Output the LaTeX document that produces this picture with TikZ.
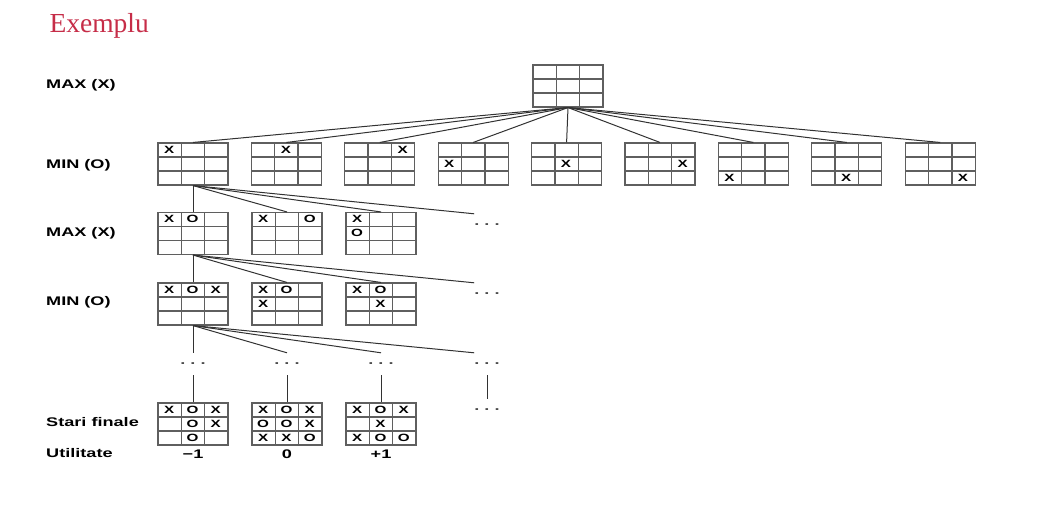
\documentclass[tikz,border=0pt]{standalone}
\usepackage{fontspec}
\setmainfont{Liberation Serif}
\newfontfamily\lblfont[FakeStretch=1.45]{Liberation Sans}
\usetikzlibrary{calc,positioning}
\definecolor{titlered}{RGB}{198,45,72}
\definecolor{gridgray}{RGB}{95,95,95}
\definecolor{edgegray}{RGB}{50,50,50}

% marks of one board: list of row/col/symbol
\newcommand{\xomarks}[2]{%
  \foreach \row/\col/\sym in {#2} {
    \node[xo] at ($(#1.north west)+(\col*23.333-11.667, \row*14-7)$) {\sym};
  }}

\begin{document}
\begin{tikzpicture}[x=1pt, y=-1pt]
    \useasboundingbox (0,0) rectangle (1052,508);
    \tikzset{board/.style={draw=gridgray, line width=1.1pt, minimum width=70pt, minimum height=42pt, inner sep=0pt, fill=white,
      path picture={
        \foreach \t in {1,2} {
          \draw[gridgray, line width=1.3pt]
            ($(path picture bounding box.north west)!\t/3!(path picture bounding box.north east)$) --
            ($(path picture bounding box.south west)!\t/3!(path picture bounding box.south east)$)
            ($(path picture bounding box.north west)!\t/3!(path picture bounding box.south west)$) --
            ($(path picture bounding box.north east)!\t/3!(path picture bounding box.south east)$);
        }}}}
    \tikzset{xo/.style={font=\lblfont\bfseries\fontsize{10.5}{11}\selectfont, inner sep=0pt, text=black}}
    \tikzset{lbl/.style={font=\lblfont\bfseries\fontsize{12.5}{13}\selectfont, inner sep=0pt, anchor=west, text=black}}
    \tikzset{dotsnode/.style={font=\lblfont\bfseries\fontsize{12.5}{13}\selectfont, inner sep=0pt, minimum height=22pt, text=black!70}}
    \tikzset{edge/.style={draw=edgegray, line width=1pt}}

    % TITLE
    \node[anchor=base west, text=titlered, font=\fontsize{27.5}{30}\selectfont] (title) at (46,33) {Exemplu};

    % LEVEL LABELS
    \node[lbl] (l0) at (46,85) {MAX (X)};
    \node[lbl] (l1) at (46,165) {MIN (O)};
    \node[lbl] (l2) at (46,233) {MAX (X)};
    \node[lbl] (l3) at (46,302) {MIN (O)};
    \node[lbl] (l4) at (46,422) {Stari finale};
    \node[lbl] (l5) at (46,453) {Utilitate};

    % ROOT BOARD
    \node[board] (root) at (568,86) {};

    % MIN (O): ONE X IN EACH CELL
    \foreach \k in {0,...,8} {
        \pgfmathsetmacro{\cx}{193+93.4*\k}
        \pgfmathtruncatemacro{\rr}{div(\k,3)+1}
        \pgfmathtruncatemacro{\cc}{mod(\k,3)+1}
        \node[board] (m\k) at (\cx,164) {};
        \node[xo] at ($(m\k.north west)+(\cc*23.333-11.667,\rr*14-7)$) {X};
        \draw[edge] (root.south) -- (m\k.north);
    }

    % MAX (X)
    \node[board] (a1) at (193,233.5) {}; \xomarks{a1}{1/1/X,1/2/O}
    \node[board] (a2) at (287,233.5) {}; \xomarks{a2}{1/1/X,1/3/O}
    \node[board] (a3) at (381,233.5) {}; \xomarks{a3}{1/1/X,2/1/O}
    \node[dotsnode] (a4) at (487,225) {.\ .\ .};
    \foreach \n in {a1,a2,a3} \draw[edge] (m0.south) -- (\n.north);
    \draw[edge] (m0.south) -- (a4.north west);

    % MIN (O)
    \node[board] (b1) at (193,304) {}; \xomarks{b1}{1/1/X,1/2/O,1/3/X}
    \node[board] (b2) at (287,304) {}; \xomarks{b2}{1/1/X,1/2/O,2/1/X}
    \node[board] (b3) at (381,304) {}; \xomarks{b3}{1/1/X,1/2/O,2/2/X}
    \node[dotsnode] (b4) at (487,294) {.\ .\ .};
    \foreach \n in {b1,b2,b3} \draw[edge] (a1.south) -- (\n.north);
    \draw[edge] (a1.south) -- (b4.north west);

    % DEEPER LEVELS
    \foreach \n/\x in {c1/193,c2/287,c3/381,c4/487} \node[dotsnode] (\n) at (\x,364) {.\ .\ .};
    \foreach \n in {c1,c2,c3} \draw[edge] (b1.south) -- (\n.north);
    \draw[edge] (b1.south) -- (c4.north west);

    % FINAL STATES
    \node[board] (f1) at (193,424) {}; \xomarks{f1}{1/1/X,1/2/O,1/3/X,2/2/O,2/3/X,3/2/O}
    \node[board] (f2) at (287,424) {}; \xomarks{f2}{1/1/X,1/2/O,1/3/X,2/1/O,2/2/O,2/3/X,3/1/X,3/2/X,3/3/O}
    \node[board] (f3) at (381,424) {}; \xomarks{f3}{1/1/X,1/2/O,1/3/X,2/2/X,3/1/X,3/2/O,3/3/O}
    \node[dotsnode] (f4) at (487,410) {.\ .\ .};
    \foreach \i in {1,2,3,4} \draw[edge] (c\i.south) -- (f\i.north);

    % UTILITIES
    \node[lbl, below=4pt of f1] (u1) {−1};
    \node[lbl, below=4pt of f2] (u2) {0};
    \node[lbl, below=4pt of f3] (u3) {+1};
\end{tikzpicture}
\end{document}
